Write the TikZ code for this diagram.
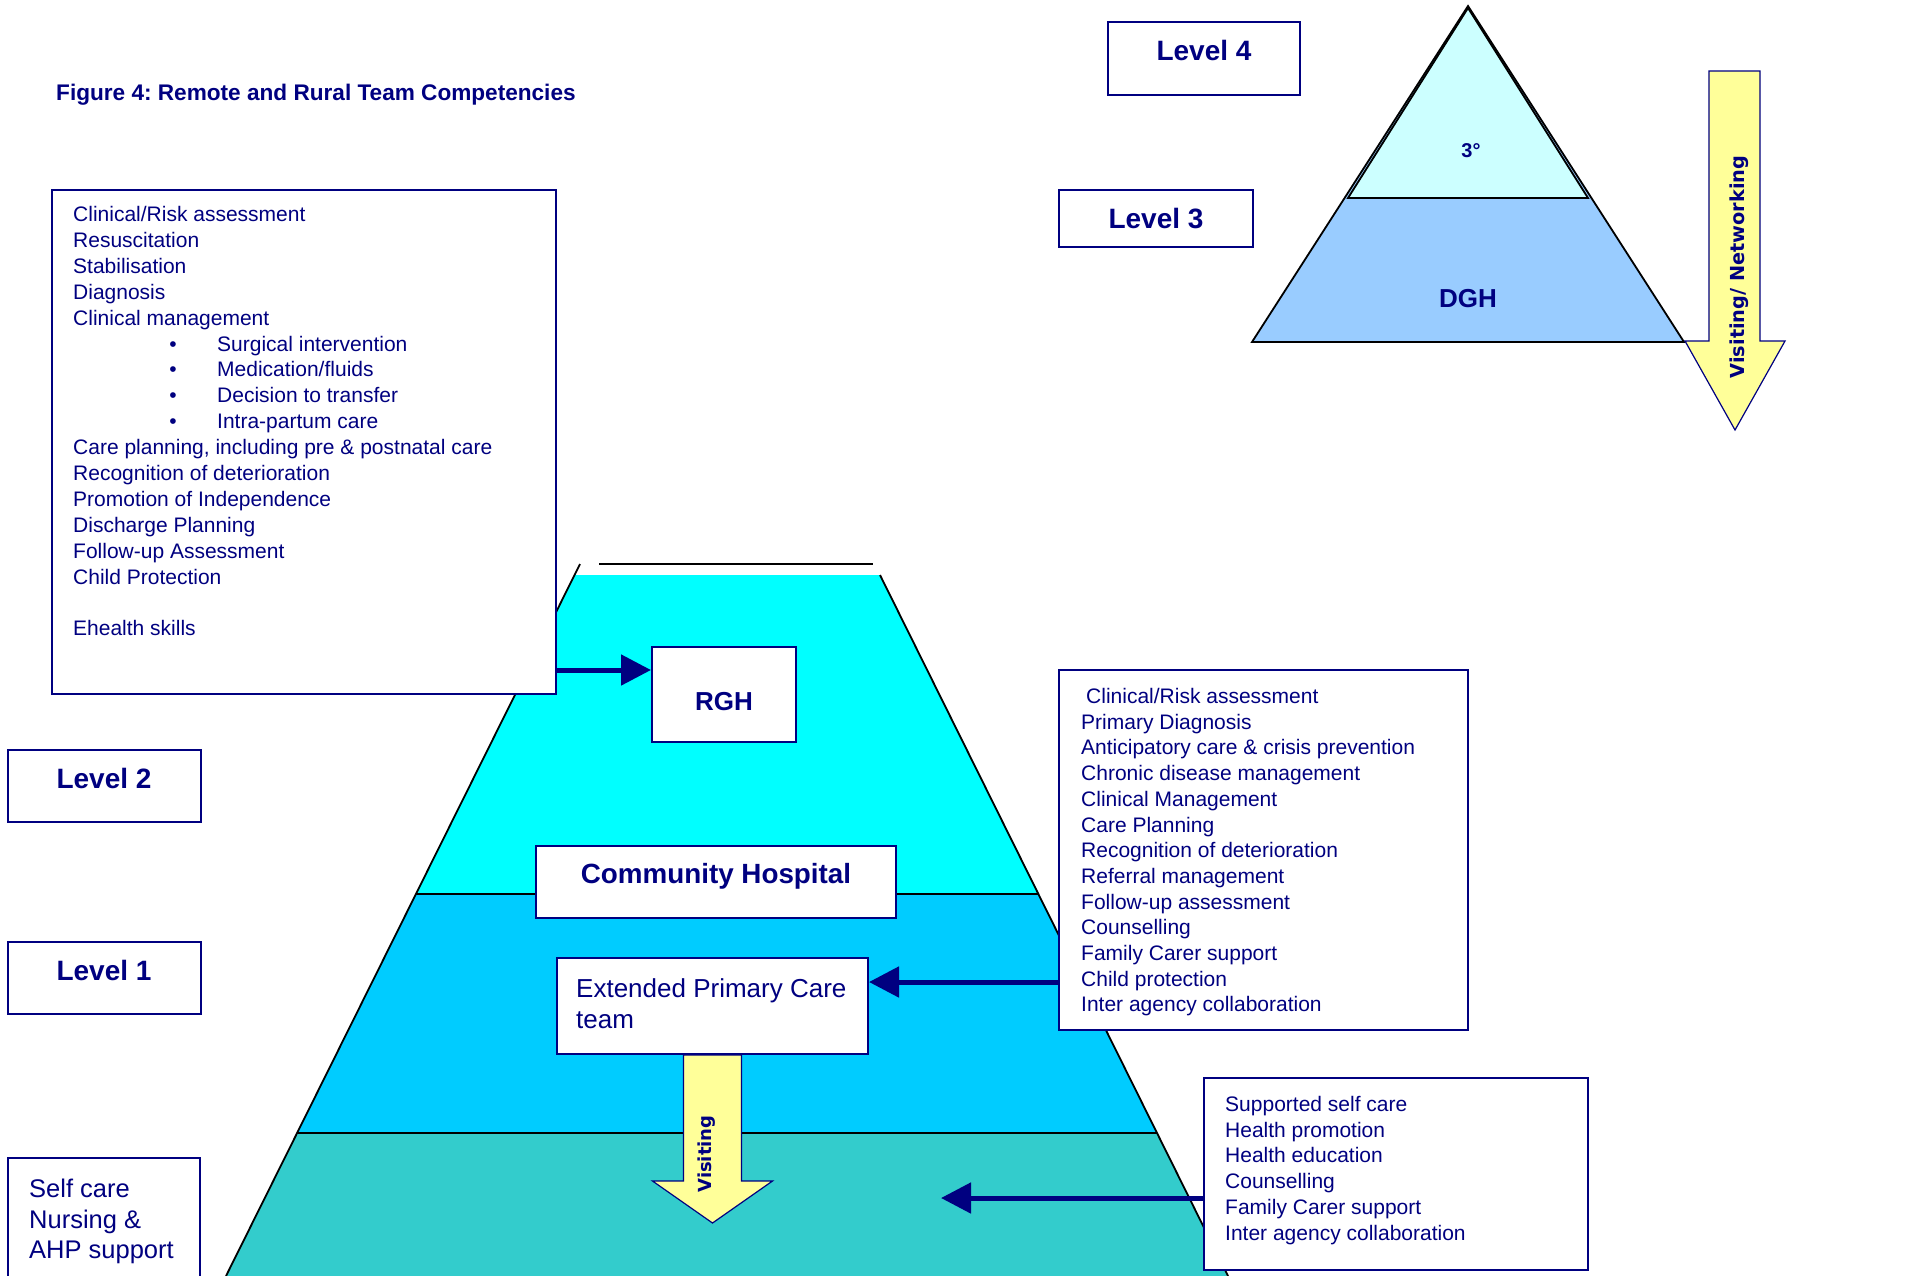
\documentclass[tikz,border=0pt]{standalone}
\usepackage{fontspec}
\setmainfont{Liberation Sans}
\newfontfamily\arrowfont{DejaVu Sans}
\usepackage{tikz}
\usetikzlibrary{arrows.meta}
\frenchspacing

\begin{document}
\begin{tikzpicture}[x=1pt, y=-1pt,
    box/.style={draw=NAVY, line width=2pt, fill=white, inner sep=0pt},
    lvltxt/.style={text=NAVY, font=\bfseries\fontsize{28}{32}\selectfont, inner sep=0pt, anchor=base},
    itemtxt/.style={text=NAVY, font=\fontsize{21}{26}\selectfont, inner sep=0pt, anchor=base west},
    edge/.style={draw=black, line width=1.8pt},
    blockarrow/.style={draw=NAVY, line width=1.2pt, fill=YELLOW, line join=miter},
    link/.style={draw=NAVY, line width=5pt, -{Triangle[length=30pt, width=30pt]}}]
    \definecolor{NAVY}{RGB}{0, 0, 128}
    \definecolor{YELLOW}{RGB}{255, 255, 153}
    \definecolor{TOPC}{RGB}{0, 255, 255}
    \definecolor{MIDC}{RGB}{0, 204, 255}
    \definecolor{BOTC}{RGB}{51, 204, 204}
    \definecolor{TERC}{RGB}{204, 255, 255}
    \definecolor{DGHC}{RGB}{153, 204, 255}
    \useasboundingbox (0,0) rectangle (1918,1275);

    % big pyramid
    \fill[TOPC] (580,564) -- (875,564) -- (1039,894) -- (416,894) -- cycle;
    \fill[MIDC] (416,894) -- (1039,894) -- (1157,1133) -- (297,1133) -- cycle;
    \fill[BOTC] (297,1133) -- (1157,1133) -- (1228,1276) -- (226,1276) -- cycle;
    \fill[white] (576,563) rectangle (882,575);
    \draw[edge] (599,564) -- (873,564);
    \draw[edge] (580,564) -- (226,1276);
    \draw[edge] (880,575) -- (1228,1276);
    \draw[edge] (416,894) -- (1039,894);
    \draw[edge] (297,1133) -- (1157,1133);

    % small pyramid
    \draw[edge, fill=DGHC] (1468,6) -- (1684,342) -- (1252,342) -- cycle;
    \draw[edge, fill=TERC] (1468,8) -- (1588,198) -- (1348,198) -- cycle;
    \node[text=NAVY, font=\bfseries\fontsize{20}{24}\selectfont, inner sep=0pt, anchor=base] (ter) at (1471,157) {3°};
    \node[text=NAVY, font=\bfseries\fontsize{26}{30}\selectfont, inner sep=0pt, anchor=base] (dgh) at (1468,307) {DGH};

    \draw[blockarrow] (1709,71) -- (1760,71) -- (1760,341) -- (1785,341) -- (1735,430) -- (1685,341) -- (1709,341) -- cycle;
    \node[rotate=90, text=NAVY, font=\arrowfont\bfseries\fontsize{19.3}{22}\selectfont, inner sep=0pt] (netlbl) at (1739,267) {Visiting/ Networking};

    \node[text=NAVY, font=\bfseries\fontsize{22.6}{26}\selectfont, inner sep=0pt, anchor=base west] (title) at (56,100) {Figure 4: Remote and Rural Team Competencies};

    % level boxes
    \node[box, minimum width=192pt, minimum height=73pt] (lv4) at (1204,58.5) {};
    \node[lvltxt] (lv4txt) at (1204,60) {Level 4};
    \node[box, minimum width=194pt, minimum height=57pt] (lv3) at (1156,218.5) {};
    \node[lvltxt] (lv3txt) at (1156,228) {Level 3};
    \node[box, minimum width=193pt, minimum height=72pt] (lv2) at (104.5,786) {};
    \node[lvltxt] (lv2txt) at (104,788) {Level 2};
    \node[box, minimum width=193pt, minimum height=72pt] (lv1) at (104.5,978) {};
    \node[lvltxt] (lv1txt) at (104,980) {Level 1};

    % self care box
    \node[box, minimum width=192pt, minimum height=132pt] (self) at (104,1224) {};
    \node[itemtxt, font=\fontsize{25.5}{30}\selectfont] (self1) at (29,1197) {Self care};
    \node[itemtxt, font=\fontsize{25.5}{30}\selectfont] (self2) at (29,1228) {Nursing \&};
    \node[itemtxt, font=\fontsize{25.5}{30}\selectfont] (self3) at (29,1258) {AHP support};

    % left competencies
    \node[box, minimum width=504pt, minimum height=504pt] (clin) at (304,442) {};
    \foreach \t [count=\i from 0] in {Clinical/Risk assessment, Resuscitation, Stabilisation, Diagnosis, Clinical management}
        \node[itemtxt] (clin\i) at (73,{221.5+25.9*\i}) {\t};
    \foreach \t [count=\i from 5] in {Surgical intervention, Medication/fluids, Decision to transfer, Intra-partum care} {
        \node[itemtxt, anchor=base] (dot\i) at (173,{221.5+25.9*\i}) {\textbullet};
        \node[itemtxt] (clin\i) at (217,{221.5+25.9*\i}) {\t};
    }
    \foreach \t [count=\i from 9] in {{Care planning, including pre \& postnatal care}, Recognition of deterioration, Promotion of Independence, Discharge Planning, Follow-up Assessment, Child Protection}
        \node[itemtxt] (clin\i) at (73,{221.5+25.9*\i}) {\t};
    \node[itemtxt] (clin16) at (73,{221.5+25.9*16}) {Ehealth skills};

    % hospitals
    \node[box, minimum width=144pt, minimum height=95pt] (rgh) at (724,694.5) {};
    \node[text=NAVY, font=\bfseries\fontsize{26}{30}\selectfont, inner sep=0pt, anchor=base] (rghtxt) at (724,710) {RGH};
    \node[box, minimum width=360pt, minimum height=72pt] (comm) at (716,882) {};
    \node[text=NAVY, font=\bfseries\fontsize{27.8}{32}\selectfont, inner sep=0pt, anchor=base] (commtxt) at (716,883) {Community Hospital};
    \node[box, minimum width=311pt, minimum height=96pt] (epc) at (712.5,1006) {};
    \node[itemtxt, font=\fontsize{26}{30}\selectfont] (epc1) at (576,997) {Extended Primary Care};
    \node[itemtxt, font=\fontsize{26}{30}\selectfont] (epc2) at (576,1028) {team};

    \draw[blockarrow] ([xshift=-29pt]epc.south) -- ++(58,0) -- ++(0,126) -- ++(31,0) -- ++(-60,42) -- ++(-60,-42) -- ++(31,0) -- cycle;
    \node[rotate=90, text=NAVY, font=\arrowfont\bfseries\fontsize{18}{22}\selectfont, inner sep=0pt] (vislbl) at (707,1154) {Visiting};

    % primary care competencies
    \node[box, minimum width=409pt, minimum height=360pt] (prim) at (1263.5,850) {};
    \node[itemtxt] (prim0) at (1086,703.5) {Clinical/Risk assessment};
    \foreach \t [count=\i from 1] in {Primary Diagnosis, Anticipatory care \& crisis prevention, Chronic disease management, Clinical Management, Care Planning, Recognition of deterioration, Referral management, Follow-up assessment, Counselling, Family Carer support, Child protection, Inter agency collaboration}
        \node[itemtxt] (prim\i) at (1081,{703.5+25.7*\i}) {\t};

    % self care competencies
    \node[box, minimum width=384pt, minimum height=192pt] (supp) at (1396,1174) {};
    \foreach \t [count=\i from 0] in {Supported self care, Health promotion, Health education, Counselling, Family Carer support, Inter agency collaboration}
        \node[itemtxt] (supp\i) at (1225,{1111.5+25.7*\i}) {\t};

    % links
    \coordinate (rghin) at ([yshift=24.5pt]rgh.west);
    \coordinate (epcin) at ([yshift=24pt]epc.east);
    \coordinate (selftip) at (941,1198);
    \draw[link] (clin.east |- rghin) -- (rghin);
    \draw[link] (prim.west |- epcin) -- (epcin);
    \draw[link] (supp.west |- selftip) -- (selftip);
\end{tikzpicture}
\end{document}
